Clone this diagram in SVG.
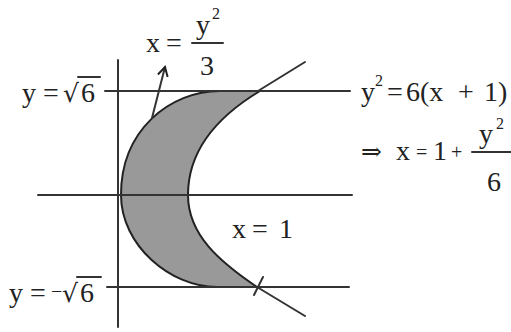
<svg xmlns="http://www.w3.org/2000/svg" width="511" height="332" viewBox="0 0 511 332">
<style>
.ln{stroke:#333;stroke-width:2;fill:none;stroke-linecap:round}
.t{font-family:'Liberation Serif',serif;font-size:28px;fill:#222}
.m{font-family:'Liberation Serif',serif;font-size:20px;fill:#222}
.s{font-family:'Liberation Serif',serif;font-size:16px;fill:#222}
.sym{font-family:'DejaVu Serif',serif;font-size:25px;fill:#222}
</style>
<defs>
<marker id="ah" viewBox="0 0 12 12" refX="10" refY="6" markerWidth="12" markerHeight="12" markerUnits="userSpaceOnUse" orient="auto">
<path d="M1,1 L10,6 L1,11" fill="none" stroke="#222" stroke-width="2"/>
</marker>
</defs>
<rect width="511" height="332" fill="#fff"/>
<g id="region">
<path d="M220,91 L260,91 C225,112 188,145 188,195 C188,235 220,262 257,287 L217,287 C170,287 121,245 121,195 C121,130 170,91 220,91 Z" fill="#999" stroke="#222" stroke-width="2"/>
</g>
<g id="connectors">
<line class="ln" x1="118" y1="60" x2="118" y2="327"/>
<line class="ln" x1="38" y1="195" x2="352" y2="195"/>
<line class="ln" x1="105" y1="91" x2="350" y2="91"/>
<line class="ln" x1="107" y1="287" x2="349" y2="287"/>
<line class="ln" x1="258" y1="91" x2="305" y2="62"/>
<line class="ln" x1="257" y1="287" x2="305" y2="316"/>
<line class="ln" x1="254" y1="295" x2="263" y2="277"/>
<line class="ln" x1="152" y1="118" x2="165" y2="67" marker-end="url(#ah)"/>
</g>
<g id="label-parabola1">
<text class="t" x="146" y="52">x</text>
<text class="t" x="166" y="52">=</text>
<line class="ln" x1="192" y1="43" x2="223" y2="43"/>
<text class="t" x="196" y="34">y</text>
<text class="s" x="212" y="19">2</text>
<text class="t" x="200" y="75">3</text>
</g>
<g id="label-top">
<text class="t" x="22" y="102">y</text>
<text class="t" x="43" y="102">=</text>
<text class="sym" x="63" y="102">√</text>
<line class="ln" x1="78" y1="77" x2="100" y2="77"/>
<text class="t" x="81" y="102">6</text>
</g>
<g id="label-bottom">
<text class="t" x="9" y="302">y</text>
<text class="t" x="30" y="302">=</text>
<text class="m" x="51" y="298">−</text>
<text class="sym" x="62" y="302">√</text>
<line class="ln" x1="77" y1="277" x2="101" y2="277"/>
<text class="t" x="80" y="302">6</text>
</g>
<g id="label-parabola2">
<text class="t" x="361" y="101">y</text>
<text class="s" x="375" y="86">2</text>
<text class="t" x="387" y="101">=</text>
<text class="t" x="406" y="101">6(x</text>
<text class="t" x="458" y="101">+</text>
<text class="t" x="484" y="101">1)</text>
<text class="sym" x="361" y="160">⇒</text>
<text class="t" x="396" y="160">x</text>
<text class="m" x="416" y="159">=</text>
<text class="t" x="433" y="160">1</text>
<text class="m" x="451" y="159">+</text>
<line class="ln" x1="472" y1="152" x2="511" y2="152"/>
<text class="t" x="479" y="143">y</text>
<text class="s" x="496" y="129">2</text>
<text class="t" x="487" y="191">6</text>
</g>
<g id="label-line">
<text class="t" x="232" y="238">x</text>
<text class="t" x="252" y="238">=</text>
<text class="t" x="279" y="238">1</text>
</g>
</svg>
